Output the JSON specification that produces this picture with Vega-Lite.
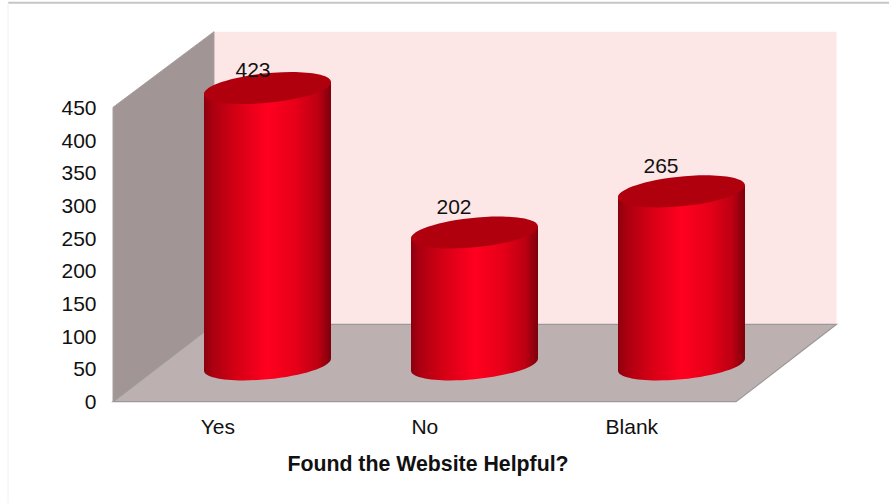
{
  "$schema": "https://vega.github.io/schema/vega-lite/v6.json",
  "width": 724,
  "height": 370,
  "autosize": "none",
  "padding": {"left": 113, "top": 31.7, "right": 52, "bottom": 101.3},
  "background": "#ffffff",
  "config": {"view": {"stroke": null}, "font": "Liberation Sans"},
  "datasets": {
    "answers": [
      {"answer": "Yes", "x": 0.5, "y": 423},
      {"answer": "No", "x": 1.5, "y": 202},
      {"answer": "Blank", "x": 2.5, "y": 265}
    ],
    "baselines": [
      {"answer": "Yes", "x": 0.5, "y": 0},
      {"answer": "No", "x": 1.5, "y": 0},
      {"answer": "Blank", "x": 2.5, "y": 0}
    ],
    "backWall": [
      {"x": 0.4879, "y": 118.3, "y2": 565.7},
      {"x": 3.4952, "y": 118.3, "y2": 565.7}
    ],
    "sideWall": [
      {"x": 0, "y": 0, "y2": 450},
      {"x": 0.4879, "y": 118.3, "y2": 565.7}
    ],
    "floor": [
      {"x": 0, "y": 0, "y2": 0},
      {"x": 0.4879, "y": 0, "y2": 118.3},
      {"x": 3.0097, "y": 0, "y2": 118.3},
      {"x": 3.4952, "y": 118.3, "y2": 118.3}
    ],
    "frameTop": [{"x": -0.507, "x2": 3.85, "y": 610}],
    "frameLeft": [{"x": -0.507, "y": 610, "y2": -155}]
  },
  "encoding": {
    "x": {
      "field": "x", "type": "quantitative",
      "scale": {"domain": [0, 3.4976], "nice": false, "zero": false, "padding": 0},
      "axis": {
        "values": [0.5, 1.5, 2.5],
        "labelExpr": "datum.value == 0.5 ? 'Yes' : datum.value == 1.5 ? 'No' : 'Blank'",
        "title": "Found the Website Helpful?",
        "titleFontSize": 21.3,
        "titleFontWeight": "bold",
        "titleColor": "#111111",
        "titleAnchor": "start",
        "titleAlign": "center",
        "titleBaseline": "alphabetic",
        "titleX": 314.5,
        "titleY": 69,
        "domain": false, "ticks": false, "grid": false,
        "labelFontSize": 21, "labelColor": "#111111", "labelPadding": 15, "labelFlush": false,
        "labelOffset": 0.8,
        "labelOverlap": false
      }
    },
    "y": {
      "field": "y", "type": "quantitative",
      "scale": {"domain": [0, 565.7], "nice": false, "padding": 0},
      "axis": {
        "values": [0, 50, 100, 150, 200, 250, 300, 350, 400, 450],
        "title": null,
        "domain": false, "ticks": false, "grid": false,
        "labelFontSize": 21, "labelColor": "#111111", "labelPadding": 17,
        "labelOffset": 1,
        "labelOverlap": false, "labelFlush": false
      }
    }
  },
  "layer": [
    {
      "data": {"name": "backWall"},
      "mark": {"type": "area", "color": "#fde6e6"},
      "encoding": {"y2": {"field": "y2"}}
    },
    {
      "data": {"name": "sideWall"},
      "mark": {"type": "area", "color": "#a19595", "stroke": "#a8a0a0", "strokeWidth": 1},
      "encoding": {"y2": {"field": "y2"}}
    },
    {
      "data": {"name": "floor"},
      "mark": {"type": "area", "color": "#bdb0b0", "stroke": "#9a9a9a", "strokeWidth": 1.2},
      "encoding": {"y2": {"field": "y2"}}
    },
    {
      "data": {"name": "frameTop"},
      "mark": {"type": "rule", "color": "#c6c6c6", "strokeWidth": 2},
      "encoding": {"x2": {"field": "x2"}}
    },
    {
      "data": {"name": "frameLeft"},
      "mark": {"type": "rule", "color": "#f0f0f0", "strokeWidth": 1},
      "encoding": {"y2": {"field": "y2"}}
    },
    {
      "data": {"name": "baselines"},
      "mark": {
        "type": "point", "filled": true, "opacity": 1, "size": 16129,
        "xOffset": 51, "yOffset": -37,
        "shape": "M-1,-0.5L1,-0.5L1,-0.095A1.0048,0.23,-5.73,0,1,-1,0.095Z",
        "color": {
          "gradient": "linear", "x1": 0, "x2": 1, "y1": 0, "y2": 0,
          "stops": [
            {"offset": 0, "color": "#8a000e"},
            {"offset": 0.06, "color": "#a80010"},
            {"offset": 0.25, "color": "#d40014"},
            {"offset": 0.5, "color": "#ff0020"},
            {"offset": 0.72, "color": "#e60018"},
            {"offset": 0.9, "color": "#bc0012"},
            {"offset": 1, "color": "#7c000c"}
          ]
        }
      }
    },
    {
      "data": {"name": "answers"},
      "mark": {
        "type": "bar", "size": 127,
        "xOffset": 51, "yOffset": -25, "y2Offset": -49,
        "color": {
          "gradient": "linear", "x1": 0, "x2": 1, "y1": 0, "y2": 0,
          "stops": [
            {"offset": 0, "color": "#8a000e"},
            {"offset": 0.06, "color": "#a80010"},
            {"offset": 0.25, "color": "#d40014"},
            {"offset": 0.5, "color": "#ff0020"},
            {"offset": 0.72, "color": "#e60018"},
            {"offset": 0.9, "color": "#bc0012"},
            {"offset": 1, "color": "#7c000c"}
          ]
        }
      },
      "encoding": {"y2": {"datum": 0}}
    },
    {
      "data": {"name": "answers"},
      "mark": {
        "type": "point", "filled": true, "opacity": 1, "size": 16129,
        "xOffset": 51, "yOffset": -37,
        "shape": "M-1,0.095L1,-0.095L1,0.5L-1,0.5Z",
        "color": {
          "gradient": "linear", "x1": 0, "x2": 1, "y1": 0, "y2": 0,
          "stops": [
            {"offset": 0, "color": "#8a000e"},
            {"offset": 0.06, "color": "#a80010"},
            {"offset": 0.25, "color": "#d40014"},
            {"offset": 0.5, "color": "#ff0020"},
            {"offset": 0.72, "color": "#e60018"},
            {"offset": 0.9, "color": "#bc0012"},
            {"offset": 1, "color": "#7c000c"}
          ]
        }
      }
    },
    {
      "data": {"name": "answers"},
      "mark": {
        "type": "point", "filled": true, "opacity": 1, "size": 16129,
        "xOffset": 51, "yOffset": -37,
        "shape": "M-1,0.095A1.0048,0.23,-5.73,1,1,1,-0.095A1.0048,0.23,-5.73,1,1,-1,0.095Z",
        "color": "#b0000e"
      }
    },
    {
      "data": {"name": "answers"},
      "mark": {
        "type": "text", "fontSize": 21, "color": "#111111",
        "align": "center", "baseline": "middle",
        "yOffset": -37,
        "dx": {"expr": "datum.y == 423 ? 36.5 : 30.5"},
        "dy": {"expr": "datum.y == 423 ? -17 : -24.5"}
      },
      "encoding": {"text": {"field": "y", "type": "quantitative"}}
    }
  ]
}
